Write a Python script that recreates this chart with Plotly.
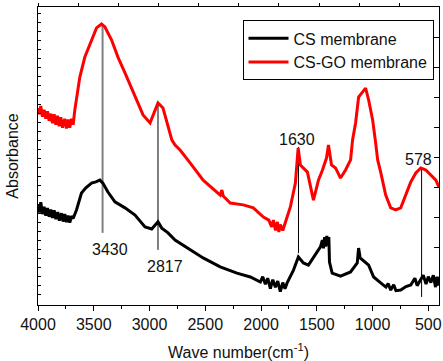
import plotly.graph_objects as go

# ---- data ----
wn_cs = [4000, 3988, 3975, 3960, 3945, 3930, 3915, 3900, 3885, 3870, 3855, 3840, 3823, 3808,
         3790, 3775, 3760, 3745, 3730, 3715, 3700, 3685, 3655, 3610, 3571, 3520, 3481, 3445,
         3418, 3373, 3310, 3220, 3130, 3040, 2980, 2924, 2890, 2834, 2771, 2699, 2519, 2366,
         2216, 2096, 2040, 2006, 1985, 1961, 1940, 1916, 1895, 1871, 1850, 1827, 1805, 1785,
         1766, 1740, 1709, 1665, 1620, 1575, 1530, 1467, 1450, 1440, 1430, 1420, 1410, 1400,
         1392, 1386, 1362, 1287, 1197, 1137, 1125, 1111, 1035, 990, 927, 880, 860, 837, 810,
         790, 747, 700, 657, 620, 600, 567, 545, 520, 500, 477, 455, 435, 420, 405]
abs_cs = [0.336, 0.310, 0.345, 0.305, 0.330, 0.300, 0.325, 0.296, 0.320, 0.292, 0.318, 0.288,
          0.312, 0.283, 0.308, 0.280, 0.305, 0.278, 0.300, 0.276, 0.298, 0.290, 0.319, 0.376,
          0.393, 0.409, 0.413, 0.419, 0.409, 0.379, 0.346, 0.326, 0.302, 0.262, 0.255, 0.279,
          0.258, 0.242, 0.218, 0.201, 0.158, 0.128, 0.107, 0.094, 0.085, 0.077, 0.095, 0.070,
          0.090, 0.055, 0.085, 0.060, 0.080, 0.045, 0.075, 0.055, 0.074, 0.095, 0.117, 0.161,
          0.141, 0.134, 0.161, 0.195, 0.218, 0.190, 0.228, 0.196, 0.232, 0.200, 0.228, 0.144,
          0.107, 0.097, 0.111, 0.141, 0.191, 0.158, 0.134, 0.094, 0.074, 0.060, 0.072, 0.050,
          0.068, 0.048, 0.050, 0.062, 0.067, 0.090, 0.065, 0.084, 0.100, 0.070, 0.095, 0.075,
          0.100, 0.060, 0.095, 0.065, 0.077]

wn_csgo = [4000, 3988, 3975, 3960, 3945, 3930, 3915, 3900, 3885, 3870, 3855, 3840, 3825, 3810,
           3795, 3780, 3760, 3745, 3730, 3715, 3700, 3685, 3670, 3625, 3580, 3520, 3475, 3430,
           3400, 3340, 3283, 3220, 3130, 3058, 2995, 2950, 2924, 2879, 2845, 2800, 2771, 2726,
           2636, 2519, 2366, 2351, 2339, 2276, 2159, 2069, 1979, 1930, 1905, 1889, 1870, 1853,
           1840, 1827, 1805, 1782, 1737, 1692, 1667, 1647, 1584, 1530, 1485, 1449, 1413, 1395,
           1368, 1332, 1287, 1242, 1197, 1179, 1152, 1125, 1089, 1062, 1035, 999, 972, 954, 927,
           882, 837, 792, 747, 702, 657, 612, 567, 522, 477, 432, 405]
abs_csgo = [0.661, 0.640, 0.668, 0.632, 0.655, 0.625, 0.650, 0.618, 0.642, 0.610, 0.640, 0.605,
            0.635, 0.600, 0.630, 0.595, 0.625, 0.592, 0.622, 0.595, 0.625, 0.605, 0.654, 0.765,
            0.832, 0.889, 0.930, 0.943, 0.933, 0.889, 0.832, 0.779, 0.698, 0.638, 0.611, 0.654,
            0.678, 0.661, 0.611, 0.554, 0.537, 0.520, 0.477, 0.419, 0.369, 0.386, 0.366, 0.342,
            0.336, 0.326, 0.295, 0.285, 0.262, 0.285, 0.250, 0.279, 0.245, 0.270, 0.250, 0.279,
            0.329, 0.409, 0.527, 0.470, 0.446, 0.352, 0.419, 0.453, 0.493, 0.537, 0.470, 0.460,
            0.426, 0.453, 0.487, 0.554, 0.611, 0.698, 0.715, 0.728, 0.688, 0.621, 0.544, 0.487,
            0.446, 0.369, 0.326, 0.319, 0.326, 0.369, 0.413, 0.443, 0.460, 0.453, 0.436, 0.419,
            0.396]

series_names = ["CS membrane", "CS-GO membrane"]

peak_labels = ["3430", "2817", "1630", "578"]
peak_line_x = [3421, 2924, 1664, 560]
peak_line_top = [0.943, 0.678, 0.530, 0.463]
peak_line_bottom = [0.242, 0.185, 0.174, 0.027]
peak_label_x = [3355, 2865, 1674, 585]
peak_label_y = [0.185, 0.128, 0.557, 0.487]

x_ticks = [4000, 3500, 3000, 2500, 2000, 1500, 1000, 500]

FONT = "Liberation Sans, Arial, sans-serif"

fig = go.Figure()
fig.add_trace(go.Scatter(x=wn_cs, y=abs_cs, mode="lines", name=series_names[0],
                         line=dict(color="black", width=3)))
fig.add_trace(go.Scatter(x=wn_csgo, y=abs_csgo, mode="lines", name=series_names[1],
                         line=dict(color="#ff0000", width=3)))

line_colors = ["#808080", "black", "black", "black"]
line_widths = [2, 1, 1, 1]
for i, lab in enumerate(peak_labels):
    fig.add_shape(type="line", xref="x", yref="y",
                  x0=peak_line_x[i], x1=peak_line_x[i],
                  y0=peak_line_bottom[i], y1=peak_line_top[i],
                  line=dict(color=line_colors[i], width=line_widths[i]), layer="below")
    fig.add_annotation(x=peak_label_x[i], y=peak_label_y[i], text=lab, showarrow=False,
                       xref="x", yref="y", font=dict(size=16, color="#111", family=FONT))

fig.update_layout(
    width=443, height=361,
    margin=dict(l=38, r=4, t=7, b=56, autoexpand=False),
    paper_bgcolor="white", plot_bgcolor="white",
    font=dict(family=FONT, size=16, color="#111"),
    showlegend=True,
    legend=dict(x=0.51, y=0.955, xanchor="left", yanchor="top",
                bgcolor="white", bordercolor="black", borderwidth=1,
                font=dict(size=16, family=FONT, color="#111"),
                tracegroupgap=0, itemwidth=40),
    xaxis=dict(range=[4000, 404], showgrid=False, zeroline=False, automargin=False,
               showline=True, linecolor="black", linewidth=1, mirror=True,
               tickmode="array", tickvals=x_ticks, ticks="outside", ticklen=5,
               tickcolor="black", ticklabelstandoff=0,
               minor=dict(dtick=250, tick0=0, ticks="outside", ticklen=3, tickcolor="black"),
               tickfont=dict(size=16),
               title=dict(text="Wave number(cm<sup>-1</sup>)", font=dict(size=16), standoff=18)),
    yaxis=dict(range=[0, 1], showgrid=False, zeroline=False, automargin=False,
               showline=True, linecolor="black", linewidth=1, mirror=True,
               showticklabels=False, ticks="inside", ticklen=3, tickcolor="black",
               tick0=0.0336, dtick=0.0305,
               title=dict(text="Absorbance", font=dict(size=16), standoff=14)),
    xaxis2=dict(overlaying="x", side="top", range=[4000, 404], showgrid=False,
                zeroline=False, showticklabels=False, ticks="outside", ticklen=3,
                tickcolor="black", tick0=4000, dtick=360, automargin=False),
    yaxis2=dict(overlaying="y", side="right", range=[0, 1], showgrid=False,
                zeroline=False, showticklabels=False, ticks="inside", ticklen=5,
                tickcolor="black", tick0=0.899 - 0.1007 * 8, dtick=0.1007, automargin=False),
)
# invisible helper trace so the mirrored tick axes are drawn
fig.add_trace(go.Scatter(x=[4000], y=[0], xaxis="x2", yaxis="y2", mode="markers",
                         marker=dict(opacity=0), showlegend=False, hoverinfo="skip"))

fig.write_html("out.html")
